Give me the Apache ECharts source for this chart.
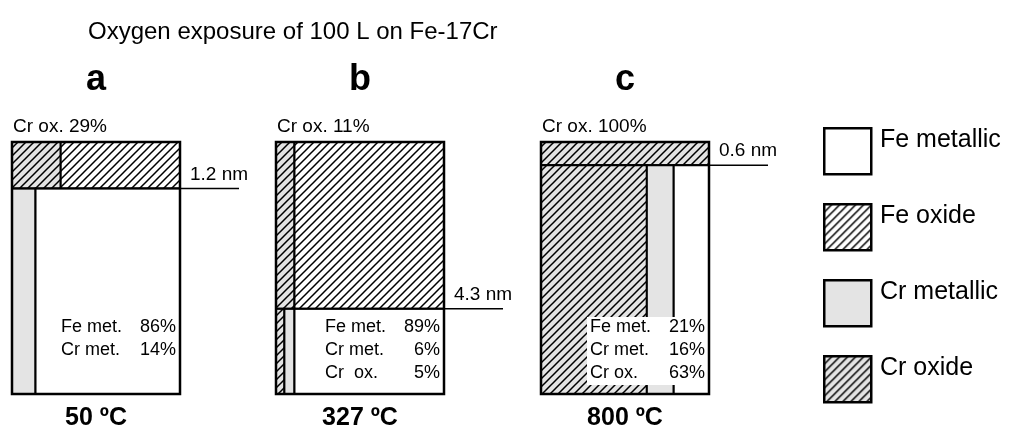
<!DOCTYPE html>
<html>
<head>
<meta charset="utf-8">
<script src="https://cdn.jsdelivr.net/npm/echarts@6/dist/echarts.min.js"></script>
<style>
  html, body { margin: 0; padding: 0; background: #fff; }
  #chart { width: 1012px; height: 436px; }
</style>
</head>
<body>
<div id="chart"></div>
<script>
// Surface composition of Fe-17Cr after 100 L oxygen exposure at three temperatures
const panelLetters = ['a', 'b', 'c'];
const temperatures = ['50 ºC', '327 ºC', '800 ºC'];
const oxideThickness = [1.2, 4.3, 0.6];   // nm, thickness of the surface oxide layer
const oxideCrOx = [29, 11, 100];          // % Cr oxide in the surface oxide (rest is Fe oxide)
const bulkCrOx = [0, 5, 63];              // % below the oxide layer
const bulkCrMet = [14, 6, 16];
const bulkFeMet = [86, 89, 21];
const legendNames = ['Fe metallic', 'Fe oxide', 'Cr metallic', 'Cr oxide'];

const DEPTH = 6.5;   // nm of material shown in each column
const FONT = '"Liberation Sans", Arial, Helvetica, sans-serif';
const GREY = '#e4e4e4';

// diagonal hatch tile, 8 px between lines
function hatch(bg) {
  const s = 8;
  const c = document.createElement('canvas');
  c.width = s; c.height = s;
  const g = c.getContext('2d');
  g.fillStyle = bg; g.fillRect(0, 0, s, s);
  g.strokeStyle = '#000'; g.lineWidth = 1.5;
  g.beginPath();
  for (const d of [0, s, 2 * s]) {
    g.moveTo(d - s - 2, s + 2); g.lineTo(d + 2, -2);
  }
  g.stroke();
  return { image: c, repeat: 'repeat' };
}

// 0 Fe metallic, 1 Fe oxide, 2 Cr metallic, 3 Cr oxide
const fills = ['#ffffff', hatch('#ffffff'), GREY, hatch(GREY)];

// one rectangle per phase: [x0 %, x1 %, depth0 nm, depth1 nm, phase]
function panelRects(i) {
  const t = oxideThickness[i];
  const rows = [
    [0, oxideCrOx[i], 0, t, 3],
    [oxideCrOx[i], 100, 0, t, 1]
  ];
  const a = bulkCrOx[i], b = a + bulkCrMet[i];
  rows.push([0, a, t, DEPTH, 3]);
  rows.push([a, b, t, DEPTH, 2]);
  rows.push([b, 100, t, DEPTH, 0]);
  return rows.filter(r => r[1] > r[0]);
}

const grids = [12, 276, 541].map(left => ({ left, top: 142, width: 168, height: 252 }));

const series = [];
panelLetters.forEach((letter, i) => {
  series.push({
    type: 'custom',
    xAxisIndex: i, yAxisIndex: i,
    clip: false,
    silent: true,
    data: panelRects(i),
    renderItem(params, api) {
      const p0 = api.coord([api.value(0), api.value(2)]);
      const p1 = api.coord([api.value(1), api.value(3)]);
      return {
        type: 'rect',
        shape: { x: p0[0], y: p0[1], width: p1[0] - p0[0], height: p1[1] - p0[1] },
        style: { fill: fills[api.value(4)], stroke: '#000', lineWidth: 2 }
      };
    }
  });

  // frame, thickness marker and annotations
  const lines = [['Fe met.', bulkFeMet[i]], ['Cr met.', bulkCrMet[i]]];
  if (bulkCrOx[i] > 0) lines.push([i === 1 ? 'Cr  ox.' : 'Cr ox.', bulkCrOx[i]]);
  series.push({
    type: 'custom',
    xAxisIndex: i, yAxisIndex: i,
    clip: false,
    silent: true,
    z: 3,
    data: [[oxideThickness[i]]],
    renderItem(params, api) {
      const tl = api.coord([0, 0]);
      const br = api.coord([100, DEPTH]);
      const yOx = api.coord([100, api.value(0)])[1];
      const cx = (tl[0] + br[0]) / 2;
      const txt = (x, y, text, opt) => ({
        type: 'text', x, y,
        style: Object.assign({ text, fill: '#000', font: '18px ' + FONT, textVerticalAlign: 'middle' }, opt || {})
      });
      const kids = [
        { type: 'rect', shape: { x: tl[0], y: tl[1], width: br[0] - tl[0], height: br[1] - tl[1] },
          style: { fill: null, stroke: '#000', lineWidth: 2.5 } },
        { type: 'line', shape: { x1: tl[0], y1: yOx, x2: br[0] + 59, y2: yOx },
          style: { stroke: '#000', lineWidth: 1.5 } },
        txt(br[0] + 10, yOx - 14, api.value(0) + ' nm', { font: '19px ' + FONT }),
        txt(tl[0] + 1, tl[1] - 15, 'Cr ox. ' + oxideCrOx[i] + '%', { font: '19px ' + FONT }),
        txt(cx, 80, letter, { font: 'bold 36px ' + FONT, textAlign: 'center' }),
        txt(cx, br[1] + 24, temperatures[i], { font: 'bold 25px ' + FONT, textAlign: 'center' })
      ];
      const first = br[1] - 67, step = 23;
      const left = br[0] - 119, right = br[0] - 4;
      kids.push({ type: 'rect',
        shape: { x: left - 3, y: first - 10, width: right - left + 5, height: (lines.length - 1) * step + 22 },
        style: { fill: '#fff' } });
      lines.forEach((ln, k) => {
        kids.push(txt(left, first + k * step, ln[0]));
        kids.push(txt(right, first + k * step, ln[1] + '%', { textAlign: 'right' }));
      });
      return { type: 'group', children: kids };
    }
  });
});

// legend swatches
const legendTops = [127, 203, 279, 355];
const graphic = [];
legendNames.forEach((name, k) => {
  graphic.push({ type: 'rect', left: 823, top: legendTops[k], shape: { width: 47, height: 46 },
    style: { fill: fills[k], stroke: '#000', lineWidth: 2.5 } });
  graphic.push({ type: 'text', left: 880, top: legendTops[k] + 1,
    style: { text: name, fill: '#000', font: '25px ' + FONT } });
});

const chart = echarts.init(document.getElementById('chart'), null, { renderer: 'canvas' });
chart.setOption({
  backgroundColor: '#fff',
  animation: false,
  title: {
    text: 'Oxygen exposure of 100 L on Fe-17Cr',
    left: 88, top: 20, padding: 0,
    textStyle: { fontSize: 24, fontWeight: 'normal', color: '#000', fontFamily: FONT }
  },
  grid: grids,
  xAxis: grids.map((g, i) => ({ type: 'value', gridIndex: i, min: 0, max: 100, show: false })),
  yAxis: grids.map((g, i) => ({ type: 'value', gridIndex: i, min: 0, max: DEPTH, inverse: true, show: false })),
  series,
  graphic
});
</script>
</body>
</html>
